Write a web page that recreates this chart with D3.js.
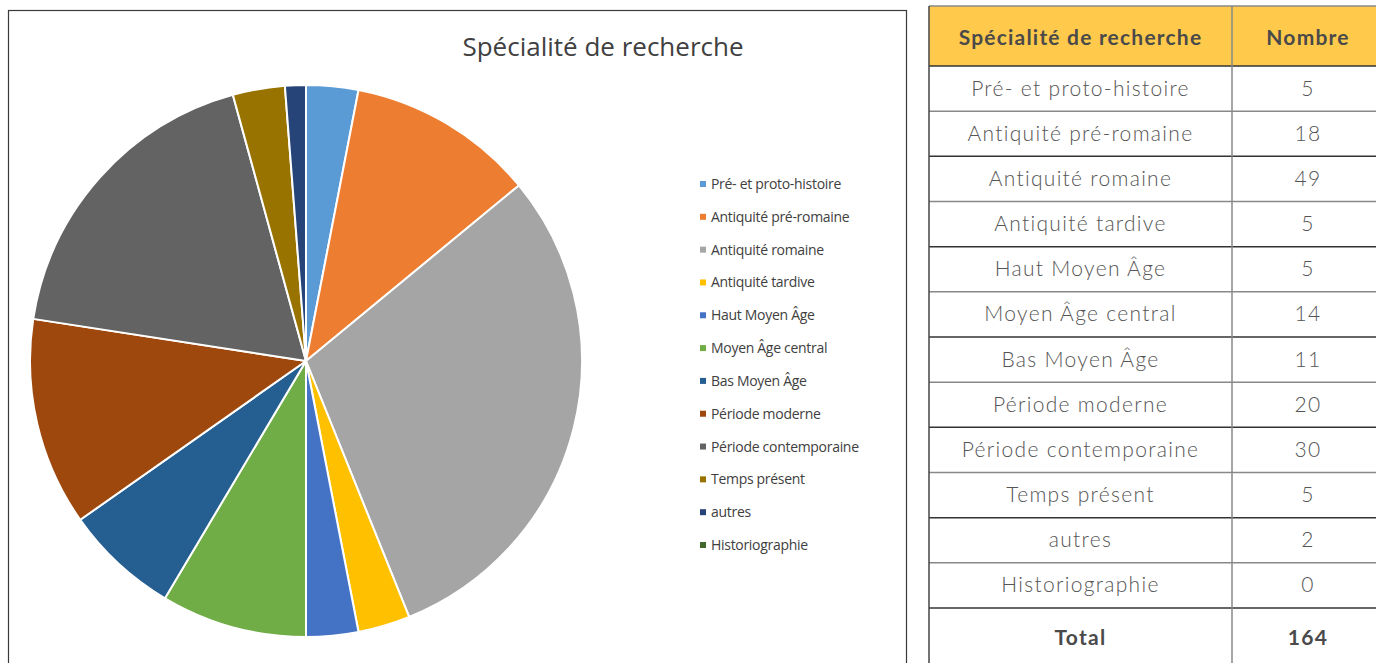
<!DOCTYPE html>
<html>
<head>
<meta charset="utf-8">
<script src="https://cdn.jsdelivr.net/npm/d3@7"></script>
<style>
  body { margin: 0; background: #fff; }
  svg { display: block; }
</style>
</head>
<body>
<div id="chart"></div>
<script>
// Données
const categories = ['Pré- et proto-histoire', 'Antiquité pré-romaine', 'Antiquité romaine', 'Antiquité tardive',
  'Haut Moyen Âge', 'Moyen Âge central', 'Bas Moyen Âge', 'Période moderne', 'Période contemporaine',
  'Temps présent', 'autres', 'Historiographie'];
const values = [5, 18, 49, 5, 5, 14, 11, 20, 30, 5, 2, 0];
const colors = ['#5B9BD5', '#ED7D31', '#A5A5A5', '#FFC000', '#4472C4', '#70AD47', '#255E91',
  '#9E480E', '#636363', '#997300', '#264478', '#43682B'];
const tableHeader = ['Spécialité de recherche', 'Nombre'];
const totalLabel = 'Total';

const W = 1376, H = 663;
const svg = d3.select('#chart').append('svg').attr('width', W).attr('height', H);

// Cadre du graphique
svg.append('rect')
  .attr('x', 8.5).attr('y', 10.5).attr('width', 898).attr('height', 670)
  .attr('fill', '#fff').attr('stroke', '#3a3a3a').attr('stroke-width', 1.2);

svg.append('text')
  .attr('x', 603).attr('y', 56)
  .attr('text-anchor', 'middle')
  .style('font-family', '"Open Sans", sans-serif')
  .style('font-size', '26px')
  .style('fill', '#404040')
  .text('Spécialité de recherche');

// Camembert
const data = categories.map((c, i) => ({ name: c, value: values[i], color: colors[i] }));
const pie = d3.pie().value(d => d.value).sort(null);
const arc = d3.arc().innerRadius(0).outerRadius(276);

const g = svg.append('g').attr('transform', 'translate(306,361)');
g.selectAll('path')
  .data(pie(data))
  .enter().append('path')
  .attr('d', arc)
  .attr('fill', d => d.data.color)
  .attr('stroke', '#fff')
  .attr('stroke-width', 2)
  .attr('stroke-linejoin', 'round');

// Légende
const legendY = d3.scalePoint().domain(categories).range([184, 545]);
const legend = svg.append('g');
legend.selectAll('rect')
  .data(data)
  .enter().append('rect')
  .attr('x', 700).attr('y', d => legendY(d.name) - 3)
  .attr('width', 6).attr('height', 6)
  .attr('fill', d => d.color);
legend.selectAll('text')
  .data(data)
  .enter().append('text')
  .attr('x', 711).attr('y', d => legendY(d.name) + 5)
  .style('font-family', '"Open Sans", sans-serif')
  .style('font-size', '14px')
  .style('letter-spacing', '-0.3px')
  .style('fill', '#404040')
  .text(d => d.name);

// Tableau
const colX = [929, 1232, 1384];
const headTop = 6, headBottom = 66, rowH = (608 - 66) / 12;
const rowsAll = data.map(d => [d.name, d.value]).concat([[totalLabel, d3.sum(values)]]);
const rowY = i => headBottom + i * rowH;

const table = svg.append('g');
table.append('rect')
  .attr('x', colX[0]).attr('y', headTop).attr('width', colX[2] - colX[0]).attr('height', headBottom - headTop)
  .attr('fill', '#FFC94B');

// Lignes horizontales
const hLines = [headTop].concat(d3.range(13).map(rowY));
table.selectAll('line.h')
  .data(hLines)
  .enter().append('line')
  .attr('class', 'h')
  .attr('x1', colX[0]).attr('x2', W)
  .attr('y1', d => d).attr('y2', d => d)
  .attr('stroke', (d, i) => i % 2 ? '#333' : '#888')
  .attr('stroke-width', 1.5);

// Lignes verticales
table.selectAll('line.v')
  .data(colX.slice(0, 2))
  .enter().append('line')
  .attr('class', 'v')
  .attr('x1', d => d).attr('x2', d => d)
  .attr('y1', headTop).attr('y2', H)
  .attr('stroke', (d, i) => i ? '#888' : '#444')
  .attr('stroke-width', 1.5);

const cx1 = (colX[0] + colX[1]) / 2, cx2 = (colX[1] + colX[2]) / 2;

table.selectAll('text.head')
  .data(tableHeader)
  .enter().append('text')
  .attr('class', 'head')
  .attr('x', (d, i) => i ? cx2 : cx1)
  .attr('y', 45)
  .attr('text-anchor', 'middle')
  .style('font-family', 'Lato, "Open Sans", sans-serif')
  .style('font-weight', 'bold')
  .style('font-size', '21px')
  .style('letter-spacing', '1.2px')
  .style('fill', '#4a4a4a')
  .text(d => d);

const rowG = table.selectAll('g.row')
  .data(rowsAll)
  .enter().append('g')
  .attr('class', 'row');

rowG.selectAll('text')
  .data((r, i) => r.map((v, j) => ({ v, j, i })))
  .enter().append('text')
  .attr('x', d => d.j ? cx2 : cx1)
  .attr('y', d => d.i === 12 ? 645 : rowY(d.i) + rowH / 2 + 7)
  .attr('text-anchor', 'middle')
  .style('font-family', 'Lato, "Open Sans", sans-serif')
  .style('font-weight', d => d.i === 12 ? 'bold' : 300)
  .style('font-size', '21px')
  .style('letter-spacing', '1.3px')
  .style('fill', d => d.i === 12 ? '#4a4a4a' : '#555')
  .text(d => d.v);
</script>
</body>
</html>
